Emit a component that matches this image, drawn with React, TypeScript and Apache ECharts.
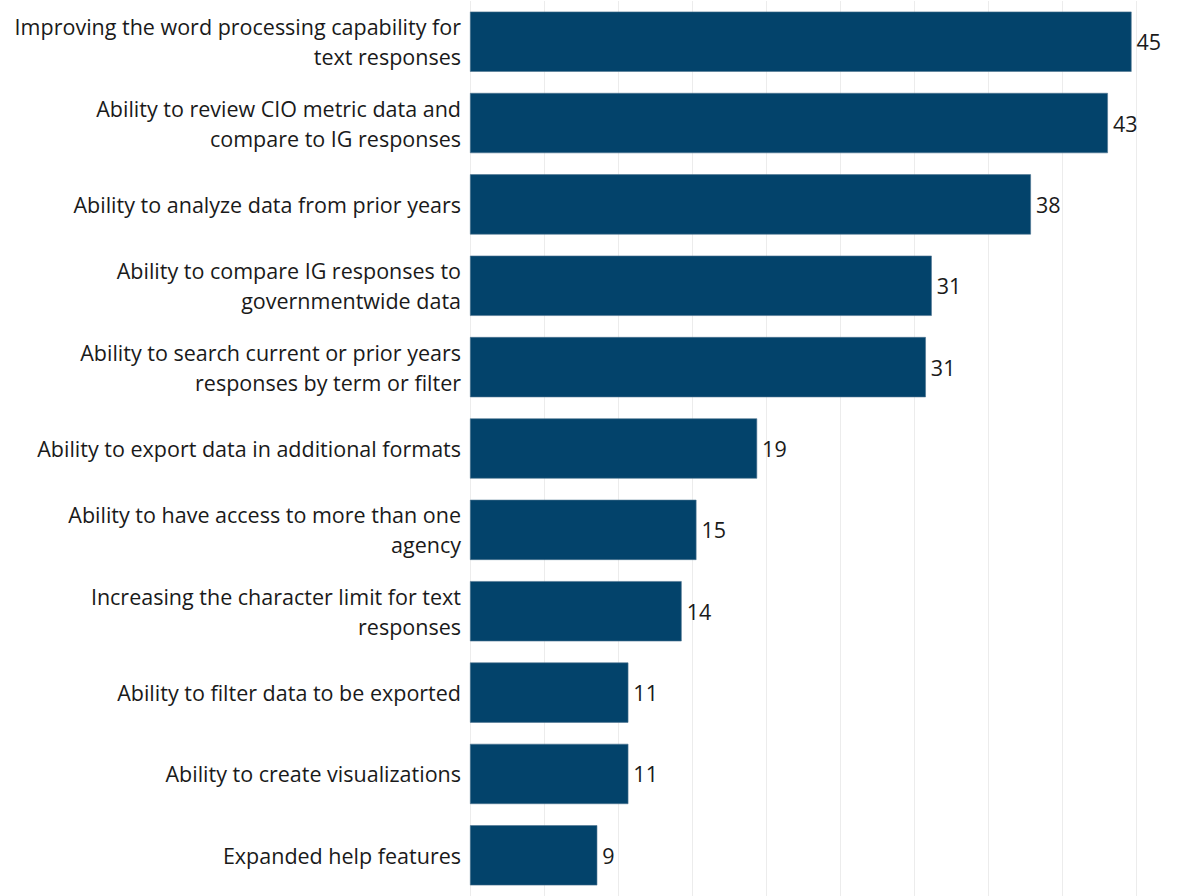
import React, { useEffect, useRef } from "react";
import * as echarts from "echarts";

const categories = [
  "Improving the word processing capability for\ntext responses",
  "Ability to review CIO metric data and\ncompare to IG responses",
  "Ability to analyze data from prior years",
  "Ability to compare IG responses to\ngovernmentwide data",
  "Ability to search current or prior years\nresponses by term or filter",
  "Ability to export data in additional formats",
  "Ability to have access to more than one\nagency",
  "Increasing the character limit for text\nresponses",
  "Ability to filter data to be exported",
  "Ability to create visualizations",
  "Expanded help features",
];

const values = [44.7, 43.1, 37.9, 31.2, 30.8, 19.4, 15.3, 14.3, 10.7, 10.7, 8.6];

const axisMin = 0;
const axisMax = 50;
const axisInterval = 5;

export default function App() {
  const ref = useRef<HTMLDivElement>(null);
  useEffect(() => {
    if (!ref.current) return;
    const chart = echarts.init(ref.current, null, { renderer: "svg" });
    chart.setOption({
      animation: false,
      grid: { left: 470, top: 1, width: 740, height: 895, containLabel: false },
      xAxis: {
        type: "value",
        min: axisMin,
        max: axisMax,
        interval: axisInterval,
        axisLabel: { show: false },
        axisLine: { show: false },
        axisTick: { show: false },
        splitLine: { show: true, lineStyle: { color: "#ececec", width: 1 } },
      },
      yAxis: {
        type: "category",
        data: categories,
        inverse: true,
        axisLine: { show: false },
        axisTick: { show: false },
        axisLabel: {
          color: "#1a1a1a",
          fontFamily: "Open Sans",
          fontSize: 21.5,
          lineHeight: 30,
          margin: 9,
          align: "right",
        },
      },
      series: [
        {
          type: "bar",
          data: values,
          barCategoryGap: "26%",
          itemStyle: { color: "#03436b", borderColor: "#4d7390", borderWidth: 0.6 },
          label: {
            show: true,
            position: "right",
            distance: 5,
            color: "#1a1a1a",
            fontFamily: "Open Sans",
            fontSize: 21.5,
            formatter: (p: any) => String(Math.round(p.value)),
          },
        },
      ],
    });
    return () => chart.dispose();
  }, []);
  return (
    <div style={{ position: "absolute", left: 0, top: 0, width: 1196, height: 896, overflow: "hidden", background: "#fff" }}>
      <div ref={ref} style={{ width: 1300, height: 896 }} />
    </div>
  );
}
